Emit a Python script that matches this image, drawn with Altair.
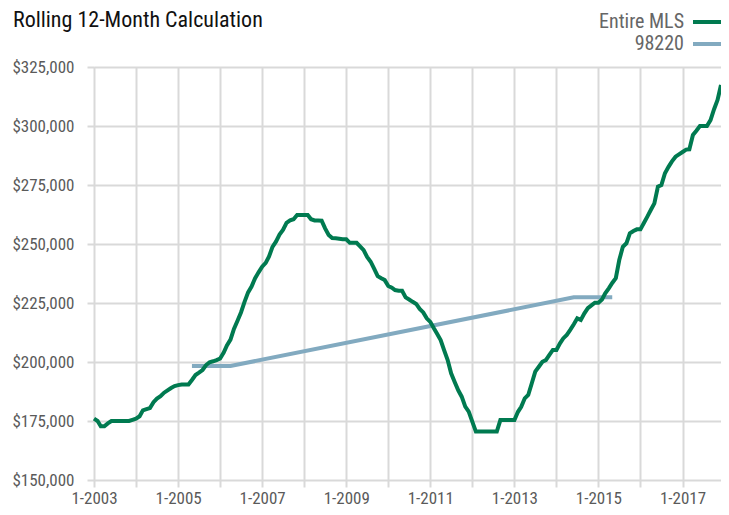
import altair as alt
import pandas as pd

FONT = "Liberation Sans Narrow, Roboto Condensed, Arial Narrow, Liberation Sans, sans-serif"

# Monthly dates Jan 2003 - Dec 2017
months = pd.date_range("2003-01-01", "2017-12-01", freq="MS").strftime("%Y-%m-%dT00:00").tolist()

# Entire MLS rolling 12-month values (thousands of $)
mls_2003 = [176, 175, 172.8, 172.8, 174, 175, 175, 175, 175, 175, 175, 175.5]
mls_2004 = [176, 177, 179.5, 180, 180.5, 183, 184.5, 185.5, 187, 188, 189, 189.8]
mls_2005 = [190.2, 190.5, 190.5, 190.5, 192.4, 194.5, 195.5, 196.6, 198.7, 199.9, 200.3, 200.8]
mls_2006 = [201.5, 204, 207, 209.5, 214, 217.5, 221, 225.5, 229.5, 232, 235.5, 238]
mls_2007 = [240.4, 242, 244.6, 248.8, 251, 254, 256, 259, 260, 260.5, 262.3, 262.3]
mls_2008 = [262.3, 262.3, 260.5, 260, 260, 259.9, 256.6, 253.8, 252.5, 252.4, 252.2, 252]
mls_2009 = [252, 250.5, 250.5, 250.5, 249, 247.4, 244.5, 242.5, 239.5, 236.4, 235.5, 234.7]
mls_2010 = [232.2, 231.5, 230.5, 230.2, 230.2, 227.4, 226.5, 225.5, 224.6, 222.5, 221, 218.5]
mls_2011 = [217, 214.3, 212, 209.3, 205, 200.8, 195.2, 191.5, 188, 185.3, 181.1, 179]
mls_2012 = [174.7, 170.5, 170.5, 170.5, 170.5, 170.5, 170.5, 170.5, 175.4, 175.4, 175.4, 175.4]
mls_2013 = [175.4, 178.9, 181, 184.6, 186, 191, 195.9, 198, 200.1, 200.8, 203, 205.1]
mls_2014 = [205.1, 207.9, 210, 211.5, 213.6, 216, 218.5, 217.8, 220.6, 222.8, 224, 225.1]
mls_2015 = [225.1, 226.5, 229.1, 231.2, 233.5, 235.5, 243.2, 248.8, 250.3, 254.5, 255.5, 256.2]
mls_2016 = [256.2, 259, 261.6, 264.5, 267.2, 274.3, 275, 280, 282.7, 285, 287, 288]
mls_2017 = [289, 290, 290.1, 296.2, 298, 300, 300, 300, 302.5, 307, 311, 317.4]

mls_values = (mls_2003 + mls_2004 + mls_2005 + mls_2006 + mls_2007 + mls_2008 + mls_2009
               + mls_2010 + mls_2011 + mls_2012 + mls_2013 + mls_2014 + mls_2015
               + mls_2016 + mls_2017)

# 98220 series (sparse)
zip_dates = ["2005-05-01T00:00", "2006-04-01T00:00", "2014-06-01T00:00", "2015-05-01T00:00"]
zip_values = [198.3, 198.3, 227.4, 227.4]

series_names = ["Entire MLS", "98220"]
series_colors = ["#007A50", "#82AAC0"]

y_ticks = [150000, 175000, 200000, 225000, 250000, 275000, 300000, 325000]
x_tick_years = list(range(2003, 2018))

df_mls = pd.DataFrame({"date": months, "value": [v * 1000 for v in mls_values], "series": series_names[0]})
df_zip = pd.DataFrame({"date": zip_dates, "value": [v * 1000 for v in zip_values], "series": series_names[1]})

GRID = "#d9d9d9"
LABEL = "#5a5a5a"

x_enc = alt.X(
    "date:T",
    scale=alt.Scale(domain=[alt.DateTime(year=2003, month=1, date=1),
                            alt.DateTime(year=2017, month=12, date=1)]),
    axis=alt.Axis(
        title=None,
        values=[alt.DateTime(year=y, month=1, date=1) for y in x_tick_years],
        labelExpr="year(datum.value) % 2 == 1 ? '1-' + year(datum.value) : ''",
        labelOverlap=False, labelFlush=False,
        labelFont=FONT, labelFontSize=17, labelColor=LABEL,
        labelPadding=3,
        grid=True, gridColor=GRID, gridWidth=2,
        ticks=True, tickColor=GRID, tickWidth=2, tickSize=7,
        domain=False,
    ),
)
y_enc = alt.Y(
    "value:Q",
    scale=alt.Scale(domain=[150000, 325000], nice=False),
    axis=alt.Axis(
        title=None,
        values=y_ticks,
        format="$,.0f",
        labelFont=FONT, labelFontSize=17, labelColor=LABEL,
        labelPadding=13,
        grid=True, gridColor=GRID, gridWidth=2,
        ticks=True, tickColor=GRID, tickWidth=2, tickSize=7,
        domain=False,
    ),
)

zip_line = alt.Chart(df_zip).mark_line(color=series_colors[1], strokeWidth=4).encode(x=x_enc, y=y_enc)
mls_line = alt.Chart(df_mls).mark_line(color=series_colors[0], strokeWidth=4).encode(x=x_enc, y=y_enc)

title_df = pd.DataFrame({"t": ["Rolling 12-Month Calculation"]})
title = alt.Chart(title_df).mark_text(
    align="left", baseline="alphabetic", font=FONT, fontSize=22, color="#111111"
).encode(text="t:N", x=alt.value(-81), y=alt.value(-40))

leg1_df = pd.DataFrame({"label": [series_names[0]]})
leg2_df = pd.DataFrame({"label": [series_names[1]]})
leg1_text = alt.Chart(leg1_df).mark_text(
    align="right", baseline="middle", font=FONT, fontSize=20, color="#666666"
).encode(text="label:N", x=alt.value(590), y=alt.value(-45))
leg2_text = alt.Chart(leg2_df).mark_text(
    align="right", baseline="middle", font=FONT, fontSize=20, color="#666666"
).encode(text="label:N", x=alt.value(590), y=alt.value(-23))
leg1_rule = alt.Chart(leg1_df).mark_rule(color=series_colors[0], strokeWidth=4).encode(
    x=alt.value(599), x2=alt.value(628), y=alt.value(-45))
leg2_rule = alt.Chart(leg2_df).mark_rule(color=series_colors[1], strokeWidth=4).encode(
    x=alt.value(599), x2=alt.value(628), y=alt.value(-23))

chart = alt.layer(zip_line, mls_line, title, leg1_text, leg2_text, leg1_rule, leg2_rule).properties(
    width=627, height=413,
    autosize=alt.AutoSizeParams(type="none"),
    padding={"left": 86, "top": 59, "right": 0, "bottom": 27},
).configure_view(stroke=GRID, strokeWidth=2).configure(background="white")

chart.save("out.html", embed_options={"renderer": "svg", "actions": False})
